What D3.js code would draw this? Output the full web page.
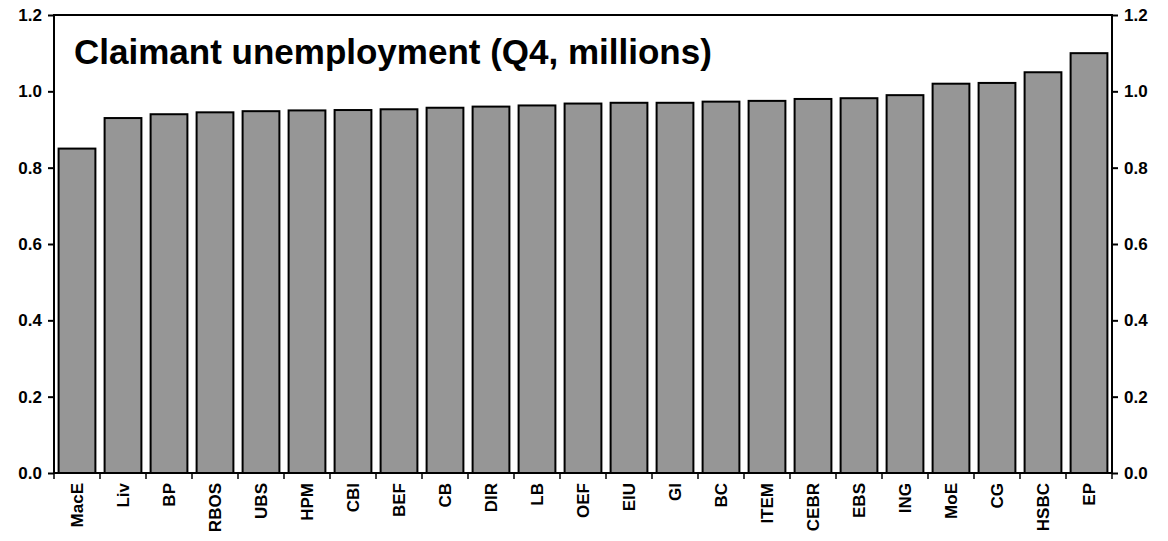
<!doctype html>
<html>
<head>
<script src="https://d3js.org/d3.v7.min.js"></script>
<style>
  body { margin: 0; background: #fff; }
  text { font-family: Arial, "Liberation Sans", sans-serif; font-weight: bold; }
</style>
</head>
<body>
<svg width="1168" height="541"></svg>
<script>
var categories = ["MacE","Liv","BP","RBOS","UBS","HPM","CBI","BEF","CB","DIR","LB","OEF","EIU","GI","BC","ITEM","CEBR","EBS","ING","MoE","CG","HSBC","EP"];
var values = [0.85,0.93,0.94,0.945,0.948,0.95,0.951,0.953,0.957,0.96,0.963,0.968,0.97,0.97,0.973,0.975,0.98,0.982,0.99,1.02,1.022,1.05,1.10];
var yTicks = [0,0.2,0.4,0.6,0.8,1.0,1.2];

var svg = d3.select("svg");
var mLeft = 54, mRight = 1112, mTop = 15, mBottom = 473;

var x = d3.scaleBand().domain(categories).range([mLeft, mRight]).paddingInner(0.2).paddingOuter(0.1);
var y = d3.scaleLinear().domain([0, 1.2]).range([mBottom, mTop]);

svg.selectAll("rect.bar")
    .data(values)
    .enter().append("rect")
    .attr("class", "bar")
    .attr("x", (d, i) => x(categories[i]))
    .attr("width", x.bandwidth())
    .attr("y", d => y(d))
    .attr("height", d => y(0) - y(d))
    .attr("fill", "#969696")
    .attr("stroke", "#000")
    .attr("stroke-width", 2);

// frame
svg.append("rect")
    .attr("x", mLeft).attr("y", mTop)
    .attr("width", mRight - mLeft).attr("height", mBottom - mTop)
    .attr("fill", "none").attr("stroke", "#000").attr("stroke-width", 2);

var fmt = d3.format(".1f");
var yl = svg.append("g").attr("transform", "translate(" + mLeft + ",0)")
    .call(d3.axisLeft(y).tickValues(yTicks).tickFormat(fmt).tickSize(6).tickPadding(6));
var yr = svg.append("g").attr("transform", "translate(" + mRight + ",0)")
    .call(d3.axisRight(y).tickValues(yTicks).tickFormat(fmt).tickSize(6).tickPadding(6));
[yl, yr].forEach(g => {
    g.select(".domain").remove();
    g.selectAll("line").attr("stroke-width", 2);
    g.selectAll("text")
        .style("font-size", "17px")
        .style("font-weight", "bold")
        .style("font-family", "Arial, 'Liberation Sans', sans-serif")
        .attr("fill", "#000");
});

// x ticks at band boundaries
var step = x.step();
var bounds = categories.map((c, i) => x(c) - step * 0.1).concat([mRight]);
svg.selectAll("line.xt").data(bounds).enter().append("line")
    .attr("x1", d => d).attr("x2", d => d)
    .attr("y1", mBottom).attr("y2", mBottom + 6)
    .attr("stroke", "#000").attr("stroke-width", 1.5);

svg.selectAll("text.xl").data(categories).enter().append("text")
    .attr("transform", d => "translate(" + (x(d) + x.bandwidth() / 2 + 6) + "," + (mBottom + 10) + ") rotate(-90)")
    .attr("text-anchor", "end")
    .style("font-size", "17px")
    .text(d => d);

svg.append("text")
    .attr("x", 74).attr("y", 64)
    .style("font-size", "35px")
    .text("Claimant unemployment (Q4, millions)");
</script>
</body>
</html>
